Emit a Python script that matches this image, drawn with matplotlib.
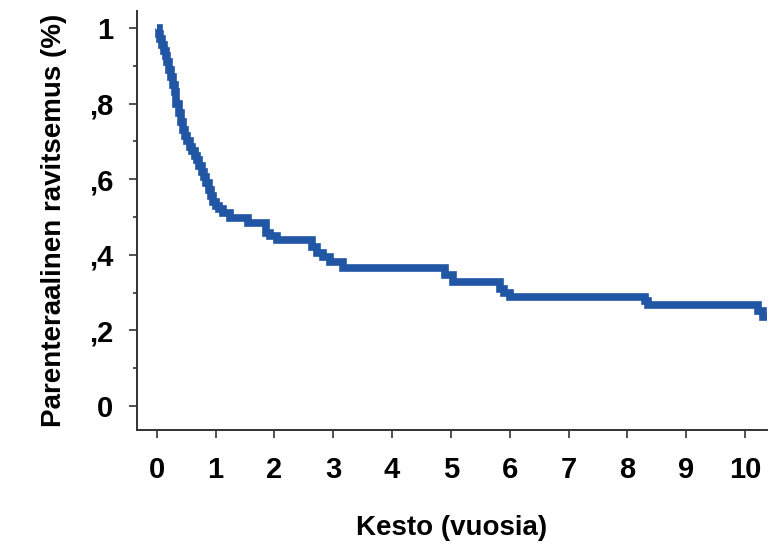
import numpy as np
import matplotlib
matplotlib.use("Agg")
import matplotlib.pyplot as plt
from matplotlib.ticker import MultipleLocator

# kaplan-meier style step curve
time_years = [0.0, 0.03, 0.06, 0.09, 0.12, 0.15, 0.18, 0.21, 0.24, 0.27, 0.3,
              0.33, 0.37, 0.41, 0.44, 0.48, 0.52, 0.56, 0.6, 0.64, 0.68, 0.72,
              0.76, 0.8, 0.84, 0.88, 0.92, 0.96, 1.0, 1.05, 1.12, 1.24, 1.55,
              1.85, 1.92, 2.04, 2.64, 2.72, 2.82, 2.95, 3.16, 4.9, 5.04, 5.83,
              5.9, 6.0, 8.3, 8.35, 10.22, 10.3, 10.37]
survival = [1.0, 0.985, 0.97, 0.955, 0.94, 0.925, 0.91, 0.89, 0.87, 0.85, 0.83,
            0.8, 0.775, 0.75, 0.73, 0.715, 0.7, 0.685, 0.675, 0.66, 0.65, 0.635,
            0.62, 0.605, 0.59, 0.57, 0.555, 0.54, 0.53, 0.52, 0.51, 0.497, 0.484,
            0.457, 0.45, 0.44, 0.42, 0.405, 0.395, 0.38, 0.365, 0.347, 0.328, 0.31,
            0.298, 0.288, 0.278, 0.267, 0.25, 0.235, 0.235]

x_ticks = list(range(0, 11))
y_ticks = [0, 0.2, 0.4, 0.6, 0.8, 1.0]
y_tick_labels = ["0", ",2", ",4", ",6", ",8", "1"]

plt.rcParams['font.family'] = ['Liberation Sans Narrow', 'Liberation Sans', 'DejaVu Sans']
plt.rcParams['font.weight'] = 'bold'

fig = plt.figure(figsize=(7.69, 5.47), dpi=100)
ax = fig.add_axes([0.178, 0.214, 0.819, 0.766])

ax.step(time_years, survival, where='post', color='#2156a5', linewidth=5.5,
        solid_joinstyle='miter', solid_capstyle='butt')

ax.set_xlim(-0.34, 10.37)
ax.set_ylim(-0.0635, 1.045)

ax.set_xticks(x_ticks)
ax.set_xticklabels([str(t) for t in x_ticks])
ax.set_yticks(y_ticks)
ax.set_yticklabels(y_tick_labels)
ax.yaxis.set_minor_locator(MultipleLocator(0.1))

ax.tick_params(axis='both', which='major', labelsize=21, length=6, width=1.2, color='#333333')
ax.tick_params(axis='x', pad=13)
ax.tick_params(axis='y', pad=11)
ax.tick_params(axis='y', which='minor', length=3, width=1.2, color='#333333')

for side in ['top', 'right']:
    ax.spines[side].set_visible(False)
for side in ['left', 'bottom']:
    ax.spines[side].set_linewidth(1.4)
    ax.spines[side].set_color('#333333')

ax.set_xlabel("Kesto (vuosia)", fontsize=20, fontweight='bold', labelpad=22)
ax.set_ylabel("Parenteraalinen ravitsemus (%)", fontsize=20, fontweight='bold', labelpad=16)

fig.savefig("out.png", dpi=100)
